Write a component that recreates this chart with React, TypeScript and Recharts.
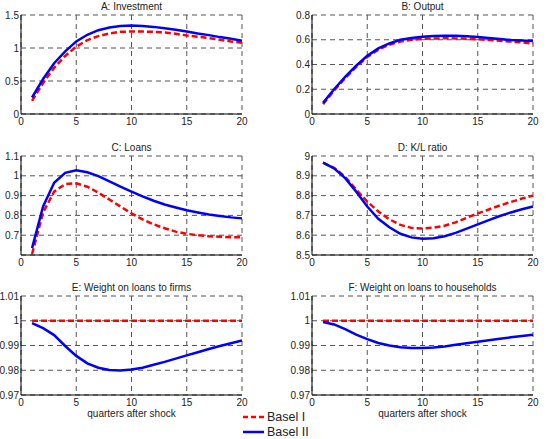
import React from 'react';
import { LineChart, Line, XAxis, YAxis, CartesianGrid } from 'recharts';

const quarters = [1, 2, 3, 4, 5, 6, 7, 8, 9, 10, 11, 12, 13, 14, 15, 16, 17, 18, 19, 20];
const xTicks = [0, 5, 10, 15, 20];

const investmentBaselI = [0.2, 0.47, 0.7, 0.88, 1.02, 1.12, 1.18, 1.22, 1.245, 1.25, 1.25, 1.245, 1.235, 1.215, 1.19, 1.17, 1.15, 1.125, 1.1, 1.08];
const investmentBaselII = [0.25, 0.53, 0.77, 0.95, 1.1, 1.2, 1.27, 1.31, 1.335, 1.34, 1.335, 1.32, 1.3, 1.275, 1.25, 1.22, 1.195, 1.165, 1.14, 1.11];

const outputBaselI = [0.08, 0.19, 0.29, 0.38, 0.46, 0.52, 0.56, 0.585, 0.6, 0.607, 0.61, 0.612, 0.611, 0.608, 0.604, 0.598, 0.592, 0.585, 0.578, 0.57];
const outputBaselII = [0.09, 0.2, 0.3, 0.39, 0.47, 0.53, 0.57, 0.6, 0.615, 0.625, 0.63, 0.633, 0.632, 0.628, 0.622, 0.615, 0.606, 0.598, 0.593, 0.59];

const loansBaselI = [0.605, 0.815, 0.92, 0.958, 0.962, 0.945, 0.915, 0.88, 0.845, 0.81, 0.78, 0.755, 0.735, 0.718, 0.707, 0.7, 0.695, 0.692, 0.69, 0.69];
const loansBaselII = [0.635, 0.845, 0.965, 1.015, 1.028, 1.018, 0.998, 0.972, 0.945, 0.92, 0.896, 0.874, 0.855, 0.84, 0.826, 0.815, 0.805, 0.797, 0.79, 0.785];

const klBaselI = [8.966, 8.94, 8.895, 8.83, 8.77, 8.72, 8.68, 8.652, 8.637, 8.634, 8.638, 8.648, 8.665, 8.688, 8.71, 8.73, 8.75, 8.768, 8.785, 8.8];
const klBaselII = [8.966, 8.938, 8.888, 8.82, 8.745, 8.683, 8.64, 8.607, 8.589, 8.582, 8.585, 8.595, 8.612, 8.633, 8.655, 8.676, 8.697, 8.715, 8.731, 8.745];

const firmsBaselI = [1, 1, 1, 1, 1, 1, 1, 1, 1, 1, 1, 1, 1, 1, 1, 1, 1, 1, 1, 1];
const firmsBaselII = [0.999, 0.997, 0.9942, 0.9898, 0.9858, 0.9828, 0.981, 0.9801, 0.9799, 0.9803, 0.981, 0.9822, 0.9834, 0.9847, 0.986, 0.9873, 0.9886, 0.9898, 0.9909, 0.992];

const householdsBaselI = [1, 1, 1, 1, 1, 1, 1, 1, 1, 1, 1, 1, 1, 1, 1, 1, 1, 1, 1, 1];
const householdsBaselII = [0.9995, 0.9985, 0.9966, 0.9944, 0.9926, 0.991, 0.99, 0.9893, 0.989, 0.989, 0.9892, 0.9896, 0.9903, 0.9909, 0.9915, 0.9921, 0.9927, 0.9933, 0.9938, 0.9943];

const investmentTicks = [0, 0.5, 1, 1.5];
const outputTicks = [0, 0.2, 0.4, 0.6, 0.8];
const loansTicks = [0.7, 0.8, 0.9, 1, 1.1];
const klTicks = [8.5, 8.6, 8.7, 8.8, 8.9, 9];
const weightTicks = [0.97, 0.98, 0.99, 1, 1.01];

const legendLabels = ['Basel I', 'Basel II'];

const FONT = '"Liberation Sans", Arial, Helvetica, sans-serif';
const RED = '#ff0000';
const BLUE = '#0000ff';

type PanelProps = {
  left: number;
  top: number;
  title: string;
  b1: number[];
  b2: number[];
  domain: [number, number];
  ticks: number[];
  xLabel?: boolean;
};

function Panel({ left, top, title, b1, b2, domain, ticks, xLabel }: PanelProps) {
  const data = quarters.map((q, i) => ({ q, b1: b1[i], b2: b2[i] }));
  const ML = 40;
  const PW = 221;
  const PH = 99;
  const MT = 15;
  const MB = 30;
  const MR = 10;
  const W = ML + PW + MR;
  const H = MT + PH + MB;
  const tickStyle = { fontSize: 10, fill: '#222', fontFamily: FONT };
  return (
    <div style={{ position: 'absolute', left: left - ML, top: top - MT, width: W, height: H }}>
      <div
        style={{
          position: 'absolute',
          left: ML,
          width: PW,
          top: 1,
          height: 12,
          lineHeight: '12px',
          textAlign: 'center',
          fontSize: 10,
          fontFamily: FONT,
          color: '#222',
        }}
      >
        {title}
      </div>
      <LineChart width={W} height={H} data={data} margin={{ top: MT, right: MR, left: 0, bottom: 0 }}>
        <CartesianGrid stroke="#555" strokeDasharray="5 4" />
        <XAxis
          dataKey="q"
          type="number"
          domain={[0, 20]}
          ticks={xTicks}
          interval={0}
          tickLine={false}
          tickSize={0}
          tickMargin={4}
          height={MB}
          axisLine={{ stroke: '#000' }}
          tick={tickStyle}
        />
        <XAxis
          xAxisId="top"
          orientation="top"
          dataKey="q"
          type="number"
          domain={[0, 20]}
          ticks={xTicks}
          tick={false}
          tickLine={false}
          height={0}
          axisLine={{ stroke: '#000' }}
        />
        <YAxis
          type="number"
          domain={domain}
          ticks={ticks}
          interval={0}
          allowDataOverflow
          width={ML}
          tickLine={false}
          tickSize={0}
          tickMargin={2}
          axisLine={{ stroke: '#000' }}
          tick={tickStyle}
        />
        <YAxis
          yAxisId="right"
          orientation="right"
          type="number"
          domain={domain}
          ticks={ticks}
          width={0}
          tick={false}
          tickLine={false}
          axisLine={{ stroke: '#000' }}
        />
        <Line
          dataKey="b1"
          type="linear"
          stroke={RED}
          strokeWidth={2.5}
          strokeDasharray="6 3"
          dot={false}
          isAnimationActive={false}
        />
        <Line
          dataKey="b2"
          type="linear"
          stroke={BLUE}
          strokeWidth={2.5}
          dot={false}
          isAnimationActive={false}
        />
      </LineChart>
      {xLabel && (
        <div
          style={{
            position: 'absolute',
            left: ML,
            width: PW,
            top: MT + PH + 13,
            height: 12,
            lineHeight: '12px',
            textAlign: 'center',
            fontSize: 10,
            fontFamily: FONT,
            color: '#222',
          }}
        >
          quarters after shock
        </div>
      )}
    </div>
  );
}

function LegendBox() {
  const items = [
    { label: legendLabels[0], color: RED, dash: '5 3' as string | undefined, y: 417 },
    { label: legendLabels[1], color: BLUE, dash: undefined as string | undefined, y: 432 },
  ];
  return (
    <>
      {items.map((it) => (
        <div
          key={it.label}
          style={{ position: 'absolute', left: 243, top: it.y - 7, height: 14, display: 'flex', alignItems: 'center' }}
        >
          <svg width={22} height={14} style={{ display: 'block' }}>
            <line x1={0} x2={21} y1={7} y2={7} stroke={it.color} strokeWidth={2.5} strokeDasharray={it.dash} />
          </svg>
          <span style={{ fontSize: 12.5, fontFamily: FONT, color: '#222', marginLeft: 2, lineHeight: '14px' }}>{it.label}</span>
        </div>
      ))}
    </>
  );
}

export default function App() {
  return (
    <div style={{ position: 'absolute', left: 0, top: 0, width: 547, height: 439, background: '#fff', overflow: 'hidden' }}>
      <Panel left={21} top={15} title="A: Investment" b1={investmentBaselI} b2={investmentBaselII} domain={[0, 1.5]} ticks={investmentTicks} />
      <Panel left={312} top={15} title="B: Output" b1={outputBaselI} b2={outputBaselII} domain={[0, 0.8]} ticks={outputTicks} />
      <Panel left={21} top={156} title="C: Loans" b1={loansBaselI} b2={loansBaselII} domain={[0.6, 1.1]} ticks={loansTicks} />
      <Panel left={312} top={156} title="D: K/L ratio" b1={klBaselI} b2={klBaselII} domain={[8.5, 9]} ticks={klTicks} />
      <Panel left={21} top={296} title="E: Weight on loans to firms" b1={firmsBaselI} b2={firmsBaselII} domain={[0.97, 1.01]} ticks={weightTicks} xLabel />
      <Panel left={312} top={296} title="F: Weight on loans to households" b1={householdsBaselI} b2={householdsBaselII} domain={[0.97, 1.01]} ticks={weightTicks} xLabel />
      <LegendBox />
    </div>
  );
}
